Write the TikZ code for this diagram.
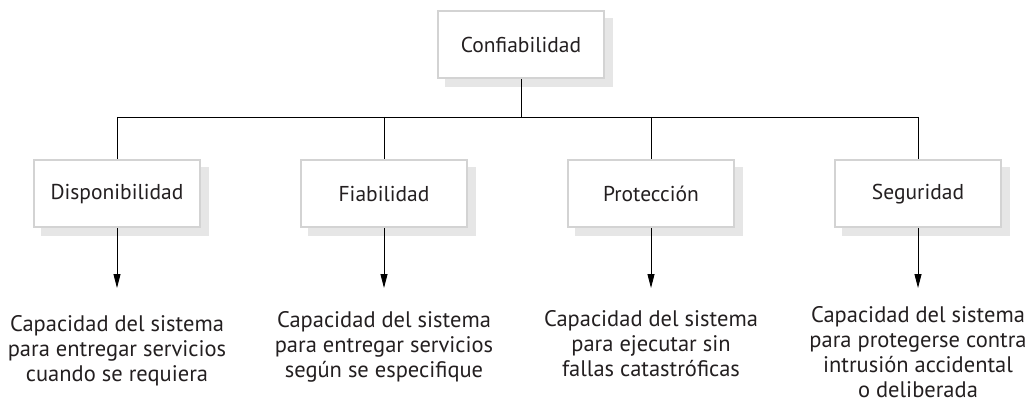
\documentclass[tikz,border=0pt]{standalone}
\usepackage{fontspec}
\setmainfont{PT Sans}
\usetikzlibrary{arrows.meta}
\definecolor{txt}{HTML}{231F20}
\definecolor{boxline}{HTML}{D3D3D3}
\definecolor{shadowc}{HTML}{E6E6E6}
\begin{document}
\begin{tikzpicture}[x=1pt,y=-1pt,
  catbox/.style={draw=boxline, line width=2pt, fill=white, minimum width=166pt, minimum height=67pt, inner sep=0pt, text=txt, font=\fontsize{21.5}{25}\selectfont},
  shadowbox/.style={fill=shadowc, minimum width=168pt, minimum height=69pt, inner sep=0pt},
  desc/.style={align=center, text=txt, font=\fontsize{22.5}{25}\selectfont, inner sep=0pt},
  link/.style={draw=black, line width=0.9pt},
  arr/.style={link, -{Triangle[length=14pt,width=7pt]}}]
\useasboundingbox (0,0) rectangle (1027,403);
% shadows
\foreach \x/\y in {521/45,117/194,384/194,651/194,918/194}
  \node[shadowbox] at (\x+8,\y+8) {};
% boxes
\node[catbox] (top) at (521,45) {Confiabilidad};
\node[catbox] (d) at (117,194) {Disponibilidad};
\node[catbox] (f) at (384,194) {Fiabilidad};
\node[catbox] (p) at (651,194) {Protección};
\node[catbox] (s) at (918,194) {Seguridad};
% bus
\coordinate (j) at (521,117);
\coordinate (jd) at (117,117);
\coordinate (js) at (918,117);
\draw[link] (top.south) -- (j);
\draw[link] (jd) -- (js);
\draw[link] (jd) -- (d.north);
\draw[link] (f.north |- j) -- (f.north);
\draw[link] (p.north |- j) -- (p.north);
\draw[link] (js) -- (s.north);
% descriptions
\node[desc, anchor=north] (dd) at (117,315) {Capacidad del sistema\\para entregar servicios\\cuando se requiera};
\node[desc, anchor=north] (fd) at (384,311) {Capacidad del sistema\\para entregar servicios\\según se especifique};
\node[desc, anchor=north] (pd) at (651,310) {Capacidad del sistema\\para ejecutar sin\\fallas catastróficas};
\node[desc, anchor=north] (sd) at (918,306) {Capacidad del sistema\\para protegerse contra\\intrusión accidental\\o deliberada};
\coordinate (da) at (117,288);
\coordinate (fa) at (384,288);
\coordinate (pa) at (651,288);
\coordinate (sa) at (918,288);
\draw[arr] (d.south) -- (da);
\draw[arr] (f.south) -- (fa);
\draw[arr] (p.south) -- (pa);
\draw[arr] (s.south) -- (sa);
\end{tikzpicture}
\end{document}
